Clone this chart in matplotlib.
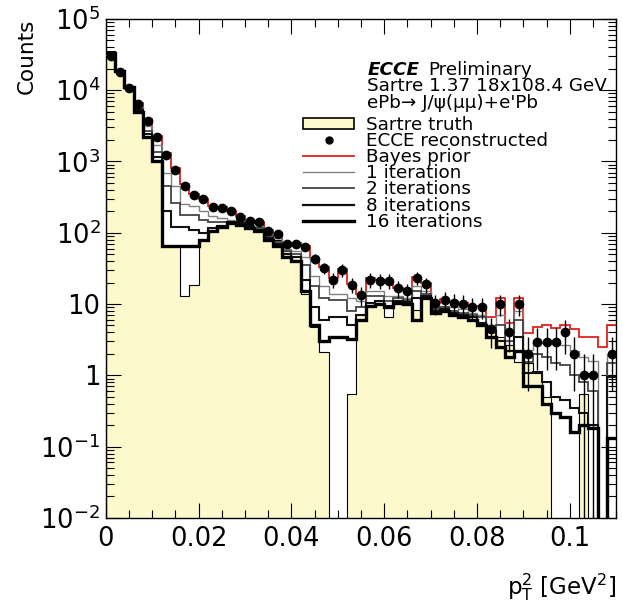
import numpy as np
import matplotlib
matplotlib.use("Agg")
from matplotlib import pyplot as plt
from matplotlib.patches import Patch
from matplotlib.lines import Line2D
from matplotlib.ticker import FixedLocator, LogLocator, NullFormatter, MultipleLocator

plt.rcParams['font.family'] = ['DejaVu Sans']
plt.rcParams['mathtext.fontset'] = 'dejavusans'

# 55 bins of 0.002 GeV^2 from 0 to 0.11
edges = np.linspace(0, 0.11, 56)

reco = [30000, 18000, 10700, 6300, 3700, 2200, 1230, 760, 460, 340,
        295, 230, 225, 200, 165, 148, 141, 107, 96, 70,
        70, 64, 43, 32, 22, 30, 18.6, 13.5, 22, 21,
        21, 16.6, 15, 23.5, 19, 10.2, 11.5, 10.5, 10, 9.1,
        9.1, 4.4, 10, 4.1, 10, 2.0, 2.9, 2.9, 2.9, 4.0,
        2.0, 1.0, 1.0, 0, 2.0]
reco_err = [300, 200, 150, 110, 80, 60, 45, 35, 27, 23,
            21, 19, 18, 17, 15, 14, 14, 12, 11, 9,
            9, 8, 7, 6, 5, 6, 4.5, 4, 5, 5,
            5, 4.5, 4, 5, 4.5, 3.2, 3.4, 3.2, 3.2, 3.0,
            3.0, 2.0, 3.2, 2.0, 3.2, 1.4, 1.7, 1.7, 1.7, 2.0,
            1.4, 1.0, 1.0, 0, 1.4]

truth = [35000, 19000, 11200, 5000, 2240, 1000, 65, 65, 13, 18.6,
         80, 110, 128, 145, 150, 150, 140, 100, 80, 56,
         46, 14, 4.8, 2.1, 0, 0, 0.54, 7, 9.8, 10.5,
         6.5, 11.5, 11, 8.3, 13.5, 8.3, 8, 7, 6.6, 6,
         5.1, 4.4, 3.5, 2.7, 1.55, 1.5, 1.07, 0.5, 0, 0,
         0, 0.54, 0, 0, 0]

prior = [31000, 18500, 11000, 6600, 3900, 2300, 1300, 800, 480, 350,
         300, 240, 230, 205, 170, 150, 143, 110, 98, 72,
         72, 66, 44, 33, 23, 31, 19, 14, 23, 22,
         22, 17, 15.5, 24, 19.5, 10.5, 11.8, 10.8, 10.3, 9.3,
         9.3, 6.5, 12, 5.5, 12, 3.9, 4.8, 5.1, 4.6, 5.1,
         4.4, 3.5, 3.5, 2.5, 5.1]

iter1 = [31000, 18000, 10500, 5900, 3100, 1700, 700, 450, 250, 240,
         200, 170, 160, 150, 140, 130, 120, 95, 85, 60,
         55, 45, 25, 18, 14, 14, 12, 11, 15, 15,
         13, 13, 12, 18, 15, 9, 9.5, 9, 8.5, 7.5,
         7, 5, 7, 4, 8, 2.3, 2.9, 2.8, 2.8, 2.7,
         2.2, 1.8, 1.6, 0, 2.0]
iter2 = [32000, 18200, 10600, 5500, 2650, 1380, 450, 260, 180, 175,
         150, 140, 140, 140, 140, 125, 115, 90, 75, 55,
         50, 35, 18, 12, 11.5, 11.5, 8, 9, 13, 13,
         11, 12, 11.5, 15, 14, 8.5, 9, 8, 7.5, 7,
         6.5, 4.5, 5, 3, 6, 1.55, 2.0, 1.8, 1.5, 1.4,
         1.0, 0.8, 0.6, 0, 1.5]
iter8 = [33000, 18500, 10800, 5200, 2400, 1170, 200, 120, 120, 110,
         100, 115, 125, 140, 135, 120, 110, 85, 70, 50,
         45, 22, 9, 6, 6.6, 6.6, 5, 7, 10.5, 11,
         9.5, 11, 10.5, 12, 13, 8, 8.5, 7.5, 7, 6.5,
         5.5, 4, 3, 2.2, 3.5, 1.07, 1.1, 0.8, 0.5, 0.45,
         0.35, 0.3, 0.2, 0, 0.95]
iter16 = [33500, 18500, 11000, 5000, 2240, 1000, 65, 65, 65, 65,
          80, 105, 120, 135, 130, 115, 105, 80, 65, 46,
          40, 15, 5, 3, 3.4, 3.4, 3.2, 6, 9.5, 10,
          9, 10.5, 10, 6, 12, 7.5, 8, 7, 6.5, 6,
          5, 3.5, 2.5, 1.8, 2.2, 0.7, 0.7, 0.4, 0.3, 0.26,
          0.16, 0.2, 0.18, 0, 0.13]

floor = 1e-4
def clip(v):
    v = np.asarray(v, dtype=float)
    return np.where(v > 0, v, floor)

fig = plt.figure(figsize=(6.23, 6.10), dpi=100)
ax = fig.add_axes([0.170, 0.151, 0.819, 0.818])

fill_col = '#fdf9cc'
ax.stairs(clip(truth), edges, fill=True, facecolor=fill_col, baseline=floor, zorder=1)
ax.stairs(clip(truth), edges, color='black', lw=0.8, baseline=floor, zorder=2)

ax.stairs(clip(prior), edges, color='#e0201b', lw=1.3, baseline=None, zorder=3)
ax.stairs(clip(iter1), edges, color='#808080', lw=1.0, baseline=None, zorder=4)
ax.stairs(clip(iter2), edges, color='#444444', lw=1.3, baseline=None, zorder=4)
ax.stairs(clip(iter8), edges, color='#111111', lw=1.5, baseline=None, zorder=4)
ax.stairs(clip(iter16), edges, color='black', lw=2.4, baseline=None, zorder=5)

centers = 0.5 * (edges[:-1] + edges[1:])
reco_a = np.asarray(reco, dtype=float)
mask = reco_a > 0
ax.errorbar(centers[mask], reco_a[mask], yerr=np.asarray(reco_err)[mask], fmt='o',
            color='black', ms=6, elinewidth=1.0, capsize=0, zorder=6)

ax.set_yscale('log')
ax.set_xlim(0, 0.11)
ax.set_ylim(1e-2, 1e5)

yt = [1e-2, 1e-1, 1, 10, 1e2, 1e3, 1e4, 1e5]
ylab = [r'$10^{-2}$', r'$10^{-1}$', '1', '10', r'$10^{2}$', r'$10^{3}$', r'$10^{4}$', r'$10^{5}$']
ax.yaxis.set_major_locator(FixedLocator(yt))
ax.set_yticklabels(ylab)
ax.yaxis.set_minor_locator(LogLocator(base=10, subs=np.arange(2, 10), numticks=20))
ax.yaxis.set_minor_formatter(NullFormatter())

ax.xaxis.set_minor_locator(MultipleLocator(0.005))
ax.set_xticks([0, 0.02, 0.04, 0.06, 0.08, 0.1])
ax.set_xticklabels(['0', '0.02', '0.04', '0.06', '0.08', '0.1'])

ax.tick_params(which='both', direction='in', top=True, right=True, labelsize=18.5, width=0.8)
ax.tick_params(which='major', length=11)
ax.tick_params(which='minor', length=5.5)
ax.tick_params(axis='x', pad=6)
ax.tick_params(axis='y', pad=4)
for s in ax.spines.values():
    s.set_linewidth(1.0)

ax.set_ylabel('Counts', fontsize=15.5, loc='top', labelpad=3)
ax.set_xlabel(r'$\mathregular{p_{T}^{2}}$ [GeV$^{2}$]', fontsize=16.5, loc='right', labelpad=14)

fs = 13.2
tx = 0.512
ax.text(tx, 0.898, 'ECCE', transform=ax.transAxes, fontsize=fs,
        fontweight='bold', fontstyle='italic', va='center', ha='left')
ax.text(0.631, 0.898, 'Preliminary', transform=ax.transAxes, fontsize=fs,
        va='center', ha='left')
ax.text(tx, 0.865, 'Sartre 1.37 18x108.4 GeV', transform=ax.transAxes,
        fontsize=fs, va='center', ha='left')
ax.text(tx, 0.832, "ePb\u2192 J/\u03c8(\u03bc\u03bc)+e'Pb", transform=ax.transAxes,
        fontsize=fs, va='center', ha='left')

handles = [
    Patch(facecolor=fill_col, edgecolor='black', lw=1.2),
    Line2D([], [], ls='none', marker='o', color='black', ms=5),
    Line2D([], [], color='#e0201b', lw=1.3),
    Line2D([], [], color='#808080', lw=1.0),
    Line2D([], [], color='#444444', lw=1.3),
    Line2D([], [], color='#111111', lw=1.6),
    Line2D([], [], color='black', lw=2.4),
]
labels = ['Sartre truth', 'ECCE reconstructed', 'Bayes prior', '1 iteration',
          '2 iterations', '8 iterations', '16 iterations']
ax.legend(handles, labels, loc='upper left', bbox_to_anchor=(0.386, 0.806),
          frameon=False, fontsize=fs, handlelength=2.8, handleheight=0.55,
          handletextpad=0.64, labelspacing=-0.1, borderpad=0.0, borderaxespad=0.0)

fig.savefig('out.png', dpi=100)
